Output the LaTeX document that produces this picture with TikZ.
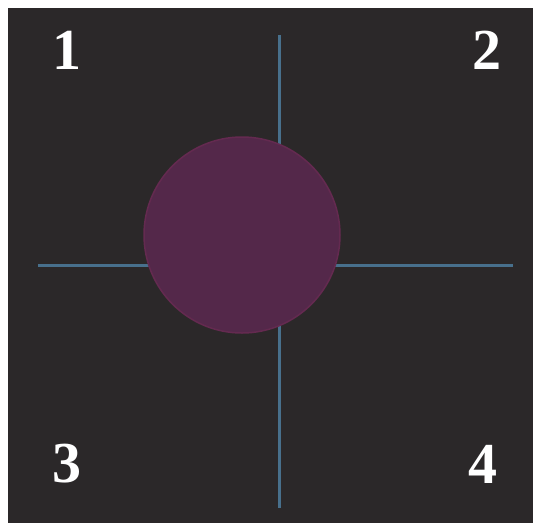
\documentclass[tikz,border=0pt]{standalone}
\usepackage{fontspec}
\setmainfont{Liberation Serif}
\definecolor{bgdark}{RGB}{43,40,41}
\definecolor{axisblue}{RGB}{72,112,140}
\definecolor{circfill}{RGB}{84,40,74}
\definecolor{circedge}{RGB}{100,42,80}
\tikzset{
  px/.style={x=1pt,y=-1pt},
  axisline/.style={draw=axisblue,line width=3pt},
  numlabel/.style={text=white,font=\fontsize{58}{58}\selectfont\bfseries,inner sep=0pt,anchor=center}
}
\begin{document}
\begin{tikzpicture}[x=1pt,y=-1pt]
\useasboundingbox (0,0) rectangle (533,523);
\fill[white] (0,0) rectangle (533,523);
\fill[bgdark] (8,8) rectangle (533,523);
\coordinate (vt) at (279,35);
\coordinate (vb) at (279,508);
\coordinate (hl) at (38,265);
\coordinate (hr) at (513,265);
\draw[axisline] (vt) -- (vb);
\draw[axisline] (hl) -- (hr);
\node[circle,minimum size=196pt,inner sep=0pt,fill=circfill,draw=circedge,line width=1.5pt] (c) at (242,235) {};
\node[numlabel] (n1) at (67,50) {1};
\node[numlabel] (n2) at (487,50) {2};
\node[numlabel] (n3) at (67,464) {3};
\node[numlabel] (n4) at (483,464) {4};
\end{tikzpicture}
\end{document}
